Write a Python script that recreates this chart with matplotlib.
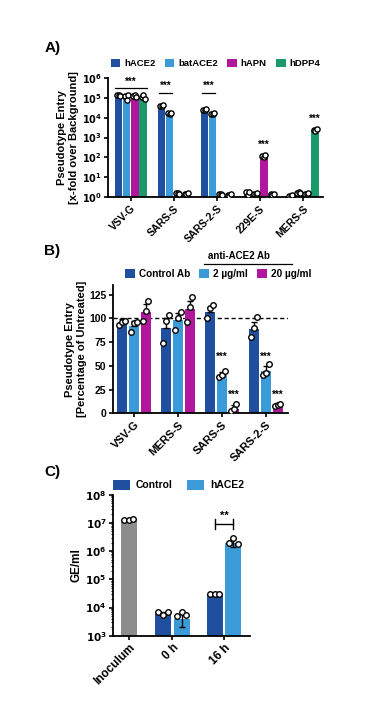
import numpy as np
import matplotlib
matplotlib.use('Agg')
import matplotlib.pyplot as plt

plt.rcParams['font.family'] = ['Liberation Sans', 'DejaVu Sans']
plt.rcParams['font.weight'] = 'bold'
plt.rcParams['axes.labelweight'] = 'bold'

# ---- panel A data
a_groups = ['VSV-G', 'SARS-S', 'SARS-2-S', '229E-S', 'MERS-S']
a_series = ['hACE2', 'batACE2', 'hAPN', 'hDPP4']
a_colors = ['#1f4f9e', '#3b9bd9', '#b0179c', '#1d9a6c']
a_means = [
    [1.3e5, 4.0e4, 2.5e4, 1.7, 1.2],
    [1.2e5, 1.7e4, 1.6e4, 1.5, 1.7],
    [1.2e5, 1.6, 1.4, 120, 1.5],
    [1.1e5, 1.5, 1.3, 1.4, 2.5e3],
]
a_points = [
    [[1.3e5, 1.3e5, 1.2e5], [4.0e4, 3.8e4, 4.2e4], [2.5e4, 2.4e4, 2.6e4], [1.8, 1.3, 1.9], [1.2, 1.1, 1.3]],
    [[1.2e5, 8.0e4, 1.3e5], [1.7e4, 1.6e4, 1.8e4], [1.6e4, 1.5e4, 1.7e4], [1.5, 1.4, 1.6], [1.7, 1.9, 1.6]],
    [[1.2e5, 1.3e5, 1.1e5], [1.6, 1.7, 1.5], [1.4, 1.5, 1.3], [120, 110, 130], [1.5, 1.4, 1.6]],
    [[1.1e5, 1.3e5, 9.0e4], [1.5, 1.4, 1.6], [1.3, 1.2, 1.4], [1.4, 1.3, 1.5], [2.5e3, 2.2e3, 2.8e3]],
]

# ---- panel B data
b_groups = ['VSV-G', 'MERS-S', 'SARS-S', 'SARS-2-S']
b_series = ['Control Ab', '2 \u00b5g/ml', '20 \u00b5g/ml']
b_colors = ['#1f4f9e', '#3b9bd9', '#b0179c']
b_means = [
    [95, 90, 107, 89],
    [92, 98, 40, 45],
    [107, 110, 5, 9],
]
b_err = [
    [4, 10, 5, 7],
    [5, 8, 3, 5],
    [8, 8, 4, 2],
]
b_points = [
    [[93, 96, 97], [74, 97, 103], [100, 111, 114], [80, 90, 101]],
    [[86, 95, 96], [88, 100, 107], [38, 40, 45], [40, 42, 52]],
    [[97, 108, 118], [96, 112, 122], [2, 5, 10], [8, 9, 10]],
]

# ---- panel C data
c_labels = ['Inoculum', '0 h', '16 h']
c_series = ['Control', 'hACE2']
c_inoculum = 1.3e7
c_inoculum_pts = [1.3e7, 1.3e7, 1.35e7]
c_control = [6.0e3, 3.0e4]
c_hace2 = [4.0e3, 2.0e6]
c_control_err = [1.0e3, 2.0e3]
c_hace2_err = [2.0e3, 6.0e5]
c_control_pts = [[7.0e3, 5.5e3, 7.0e3], [3.0e4, 3.0e4, 3.0e4]]
c_hace2_pts = [[5.0e3, 7.0e3, 5.5e3], [2.0e6, 3.0e6, 1.8e6]]


def style_axes(ax, size=7.5):
    for s in ['top', 'right']:
        ax.spines[s].set_visible(False)
    for s in ['left', 'bottom']:
        ax.spines[s].set_linewidth(1.3)
    ax.tick_params(width=1.2, length=3, labelsize=size, pad=1.5)


def log_labels(ax, lo, hi):
    ticks = [10.0 ** k for k in range(lo, hi + 1)]
    ax.set_yticks(ticks)
    ax.set_yticklabels([r'$\mathbf{10^{%d}}$' % k for k in range(lo, hi + 1)])


fig = plt.figure(figsize=(3.7, 7.2), dpi=100)

# ================= A
axA = fig.add_axes([0.292, 0.726, 0.581, 0.166])
w = 0.17
offs = (np.arange(4) - 1.5) * 0.19
for i in range(4):
    x = np.arange(len(a_groups)) + offs[i]
    axA.bar(x, a_means[i], width=w, color=a_colors[i], label=a_series[i], zorder=2)
    for g in range(len(a_groups)):
        xs = x[g] + np.array([-0.035, 0.0, 0.035])
        axA.scatter(xs, a_points[i][g], s=14, facecolor='white', edgecolor='black', linewidth=1.0, zorder=4)
axA.set_yscale('log')
axA.set_ylim(1, 1e6)
log_labels(axA, 0, 6)
axA.minorticks_off()
axA.set_xlim(-0.53, 4.47)
axA.set_xticks(np.arange(len(a_groups)))
style_axes(axA, 7)
axA.set_xticklabels(a_groups, rotation=45, ha='right', rotation_mode='anchor', fontsize=7.5)
axA.set_ylabel('Pseudotype Entry\n[x-fold over Background]', fontsize=8, labelpad=2)
# significance
axA.plot([offs[0] - 0.08, offs[3] + 0.08], [3e5, 3e5], color='black', lw=0.9)
axA.text(0, 3.6e5, '***', ha='center', va='bottom', fontsize=7)
for g in [1, 2]:
    axA.plot([g + offs[0] - 0.06, g + offs[1] + 0.06], [1.8e5, 1.8e5], color='black', lw=0.9)
    axA.text(g + (offs[0] + offs[1]) / 2, 2.1e5, '***', ha='center', va='bottom', fontsize=7)
axA.text(3 + offs[2], 230, '***', ha='center', va='bottom', fontsize=7)
axA.text(4 + offs[3], 5e3, '***', ha='center', va='bottom', fontsize=7)
axA.legend(loc='lower center', bbox_to_anchor=(0.5, 1.05), ncol=4, frameon=False,
           fontsize=6.8, handlelength=1.0, handleheight=1.0, handletextpad=0.4,
           columnspacing=1.0, borderaxespad=0)
fig.text(0.12, 0.933, 'A)', fontsize=11, weight='bold', ha='left', va='center')

# ================= B
axB = fig.add_axes([0.305, 0.426, 0.473, 0.178])
wb = 0.23
offb = (np.arange(3) - 1) * 0.27
for i in range(3):
    x = np.arange(len(b_groups)) + offb[i]
    axB.bar(x, b_means[i], width=wb, color=b_colors[i], label=b_series[i], zorder=2)
    axB.errorbar(x, b_means[i], yerr=[np.zeros(4), b_err[i]], fmt='none', ecolor='black',
                 elinewidth=1.0, capsize=2, capthick=1.0, zorder=3)
    for g in range(len(b_groups)):
        xs = x[g] + np.array([-0.06, 0.0, 0.06])
        axB.scatter(xs, b_points[i][g], s=16, facecolor='white', edgecolor='black', linewidth=1.0, zorder=4)
axB.axhline(100, color='black', lw=1.0, ls=(0, (3, 2)), zorder=1)
axB.set_ylim(0, 135)
axB.set_yticks([0, 25, 50, 75, 100, 125])
axB.set_xlim(-0.48, 3.5)
axB.set_xticks(np.arange(len(b_groups)))
style_axes(axB, 7.5)
axB.set_xticklabels(b_groups, rotation=45, ha='right', rotation_mode='anchor', fontsize=8)
axB.set_ylabel('Pseudotype Entry\n[Percentage of Untreated]', fontsize=8, labelpad=2)
for g in [2, 3]:
    axB.text(g + offb[1], 54, '***', ha='center', va='bottom', fontsize=7)
    axB.text(g + offb[2], 14, '***', ha='center', va='bottom', fontsize=7)
axB.legend(loc='lower center', bbox_to_anchor=(0.6, 1.02), ncol=3, frameon=False,
           fontsize=7.2, handlelength=1.0, handleheight=1.0, handletextpad=0.4,
           columnspacing=0.9, borderaxespad=0)
fig.text(0.645, 0.638, 'anti-ACE2 Ab', fontsize=7, weight='bold', ha='center', va='bottom')
fig.add_artist(plt.Line2D([0.55, 0.79], [0.633, 0.633], color='black', lw=0.9,
                          transform=fig.transFigure))
fig.text(0.12, 0.652, 'B)', fontsize=11, weight='bold', ha='left', va='center')

# ================= C
axC = fig.add_axes([0.305, 0.117, 0.370, 0.196])
pos_inoc = 0.0
pos_ctrl = [1.84, 4.62]
pos_hace = [2.84, 5.62]
wc = 0.85
axC.bar([pos_inoc], [c_inoculum], width=wc, color='#8c8c8c', zorder=2)
axC.bar(pos_ctrl, c_control, width=wc, color='#1f4f9e', label=c_series[0], zorder=2)
axC.bar(pos_hace, c_hace2, width=wc, color='#3b9bd9', label=c_series[1], zorder=2)
axC.errorbar(pos_ctrl, c_control, yerr=c_control_err, fmt='none', ecolor='black',
             elinewidth=1.0, capsize=2, zorder=3)
axC.errorbar(pos_hace, c_hace2, yerr=c_hace2_err, fmt='none', ecolor='black',
             elinewidth=1.0, capsize=2, zorder=3)
for x, ys in [(pos_inoc, c_inoculum_pts), (pos_ctrl[0], c_control_pts[0]), (pos_ctrl[1], c_control_pts[1]),
              (pos_hace[0], c_hace2_pts[0]), (pos_hace[1], c_hace2_pts[1])]:
    xs = x + np.array([-0.25, 0.0, 0.25])
    axC.scatter(xs, ys, s=16, facecolor='white', edgecolor='black', linewidth=1.0, zorder=4)
axC.set_yscale('log')
axC.set_ylim(1e3, 1e8)
log_labels(axC, 3, 8)
axC.set_xlim(-0.86, 6.5)
axC.set_xticks([pos_inoc, (pos_ctrl[0] + pos_hace[0]) / 2, (pos_ctrl[1] + pos_hace[1]) / 2])
style_axes(axC, 7.5)
axC.set_xticklabels(c_labels, rotation=45, ha='right', rotation_mode='anchor', fontsize=8.5)
axC.set_ylabel('GE/ml', fontsize=8.5, labelpad=2)
axC.tick_params(axis='y', which='minor', length=1.5, width=0.8)
# bracket **
yb = 9e6
axC.plot([pos_ctrl[1], pos_hace[1]], [yb, yb], color='black', lw=1.0)
axC.plot([pos_ctrl[1], pos_ctrl[1]], [yb / 1.5, yb * 1.5], color='black', lw=1.0)
axC.plot([pos_hace[1], pos_hace[1]], [yb / 1.5, yb * 1.5], color='black', lw=1.0)
axC.text((pos_ctrl[1] + pos_hace[1]) / 2, yb * 1.3, '**', ha='center', va='bottom', fontsize=8)
axC.legend(loc='lower center', bbox_to_anchor=(0.48, 1.0), ncol=2, frameon=False,
           fontsize=7.5, handlelength=1.6, handleheight=1.0, handletextpad=0.6,
           columnspacing=1.4, borderaxespad=0)
fig.text(0.12, 0.345, 'C)', fontsize=11, weight='bold', ha='left', va='center')

fig.savefig('out.png', dpi=100)
